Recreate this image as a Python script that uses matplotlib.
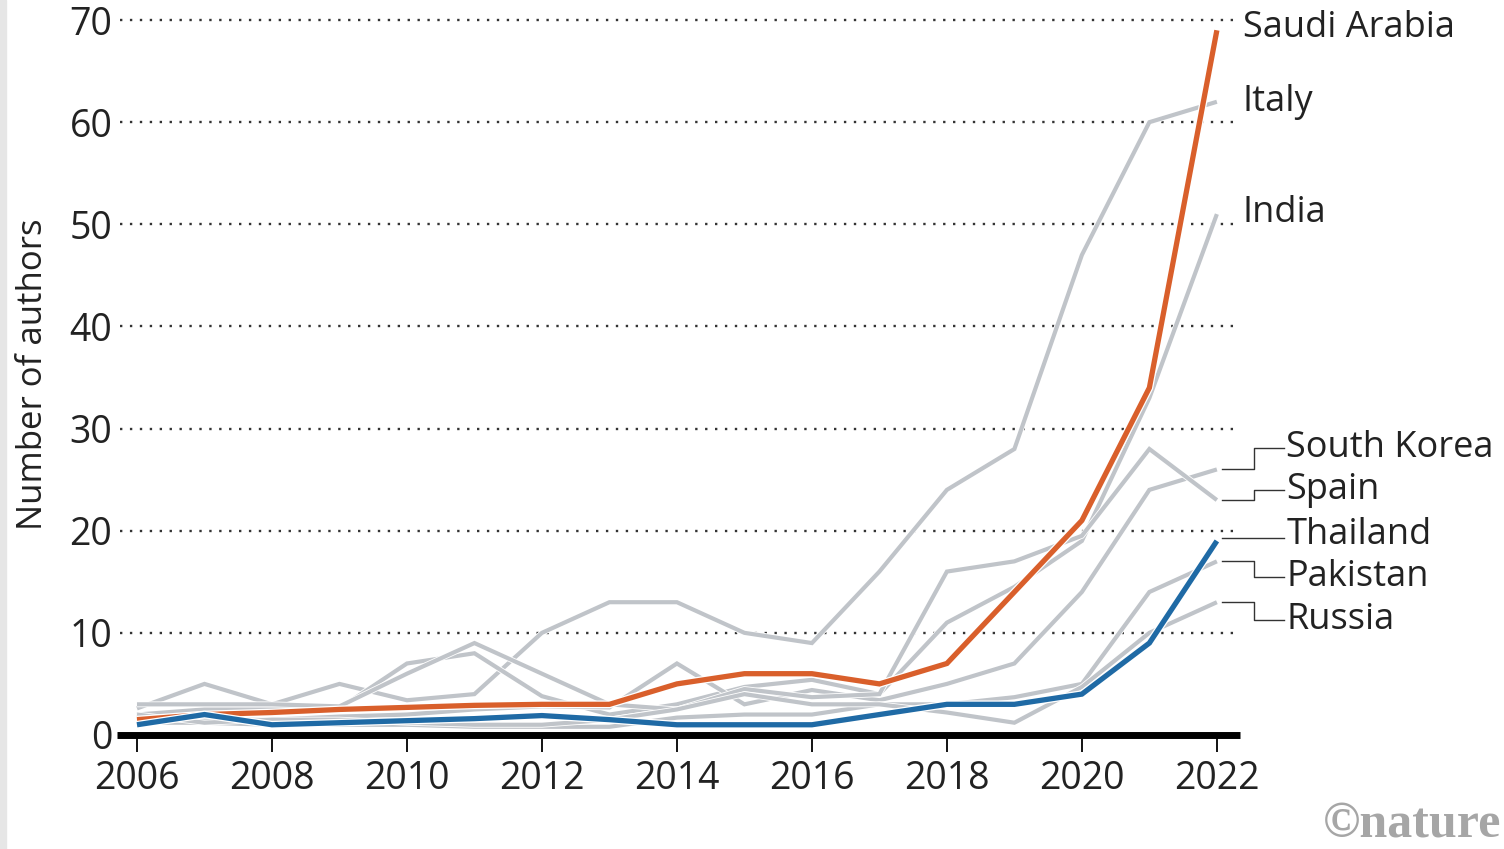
"""
Number of authors by country, 2006-2022 (Nature-style line chart)
"""
import matplotlib
matplotlib.use("Agg")
import matplotlib.pyplot as plt
import matplotlib.patheffects as pe
from matplotlib.patches import Rectangle

years = list(range(2006, 2023))

# values
saudi_arabia = [1.5, 2, 2.2, 2.5, 2.7, 2.9, 3, 3, 5, 6, 6, 5, 7, 14, 21, 34, 69]
thailand = [1, 2, 1, 1.2, 1.4, 1.6, 1.9, 1.5, 1, 1, 1, 2, 3, 3, 4, 9, 19]
italy = [2.6, 5, 3, 5, 3.4, 4, 10, 13, 13, 10, 9, 16, 24, 28, 47, 60, 62]
india = [2, 2.5, 2.5, 2.6, 7, 8, 3.8, 2, 3, 4.7, 5.4, 4, 11, 14.5, 19, 33, 51]
spain = [3, 3, 3, 2.8, 6, 9, 6, 3, 2.5, 4.5, 3.7, 4, 16, 17, 19.5, 28, 23]
south_korea = [1.5, 1.5, 1.5, 1.8, 2, 2.5, 2.8, 2.7, 7, 3, 4.4, 3.4, 5, 7, 14, 24, 26]
pakistan = [1.2, 1.2, 1, 1, 1, 0.8, 0.8, 0.8, 1.7, 2, 2, 3, 3, 3.7, 5, 14, 17]
russia = [2, 1.2, 1.5, 1.5, 1.2, 1, 1, 1.5, 2.5, 4, 3, 3, 2.2, 1.2, 4.7, 10, 13]

grey_series = {
    "Italy": italy,
    "India": india,
    "South Korea": south_korea,
    "Spain": spain,
    "Pakistan": pakistan,
    "Russia": russia,
}
highlight = {
    "Saudi Arabia": (saudi_arabia, "#d95f2b"),
    "Thailand": (thailand, "#1f6aa5"),
}

# label order on the right, label heights (data units), and whether a leader is used
label_names = ["Saudi Arabia", "Italy", "India", "South Korea", "Spain",
               "Thailand", "Pakistan", "Russia"]
label_y = [69.2, 62, 51.1, 28.1, 24.0, 19.6, 15.5, 11.3]
label_leader = [False, False, False, True, True, True, True, True]

FONT = "Open Sans"
GREY = "#c0c4c9"
TEXT = "#222222"

fig = plt.figure(figsize=(15.04, 8.49), dpi=100)
fig.patches.append(Rectangle((0, 0), 0.004, 1, transform=fig.transFigure,
                             color="#e6e6e6", zorder=0))
ax = fig.add_axes([0.0821, 0.1307, 0.7427, 0.8577])
ax.set_xlim(2005.8, 2022.35)
ax.set_ylim(-0.3, 71)

# dotted grid
for v in range(10, 80, 10):
    ax.hlines(v, 2005.75, 2022.25, colors="#333333", linestyles=(0, (1, 3.2)),
              linewidth=1.7, clip_on=False, zorder=1)

# grey countries
for name, vals in grey_series.items():
    ax.plot(years, vals, color=GREY, lw=3.0, solid_joinstyle="miter",
            solid_capstyle="butt", zorder=2,
            path_effects=[pe.Stroke(linewidth=4.2, foreground="white"), pe.Normal()])

# highlighted countries
for name, (vals, col) in highlight.items():
    ax.plot(years, vals, color=col, lw=3.8, solid_joinstyle="miter",
            solid_capstyle="butt", zorder=3,
            path_effects=[pe.Stroke(linewidth=5.6, foreground="white"), pe.Normal()])

# baseline
ax.hlines(0, 2005.7, 2022.35, colors="black", lw=5, clip_on=False, zorder=4)

# labels with leader lines
all_vals = dict(grey_series)
all_vals.update({k: v[0] for k, v in highlight.items()})
for name, ly, leader in zip(label_names, label_y, label_leader):
    end = all_vals[name][-1]
    if not leader:
        ax.text(2022.38, ly, name, fontsize=26, family=FONT, color=TEXT,
                va="center", ha="left", clip_on=False)
        continue
    if abs(end - ly) < 0.7:
        xs, ys = [2022.07, 2022.99], [end + 0.3, end + 0.3]
    else:
        xs = [2022.07, 2022.55, 2022.55, 2022.99]
        ys = [end, end, ly, ly]
    ax.plot(xs, ys, color="#333333", lw=1.0, clip_on=False, zorder=2)
    ax.text(2023.03, ly, name, fontsize=26, family=FONT, color=TEXT,
            va="center", ha="left", clip_on=False)

for s in ax.spines.values():
    s.set_visible(False)

ax.set_yticks(range(0, 80, 10))
ax.set_xticks(range(2006, 2023, 2))
ax.tick_params(axis="y", length=0, pad=8, labelsize=27, labelcolor=TEXT)
ax.tick_params(axis="x", length=10, width=1.3, pad=6, labelsize=27,
               labelcolor=TEXT, color="black")
for lab in ax.get_xticklabels() + ax.get_yticklabels():
    lab.set_family(FONT)

ax.set_ylabel("Number of authors", fontsize=25, family=FONT, color=TEXT,
              labelpad=14)

fig.text(0.998, 0.002, "\u00a9nature", fontsize=36, family="Liberation Serif",
         weight="bold", color="#a6a6a6", ha="right", va="bottom")

fig.savefig("out.png", dpi=100)
